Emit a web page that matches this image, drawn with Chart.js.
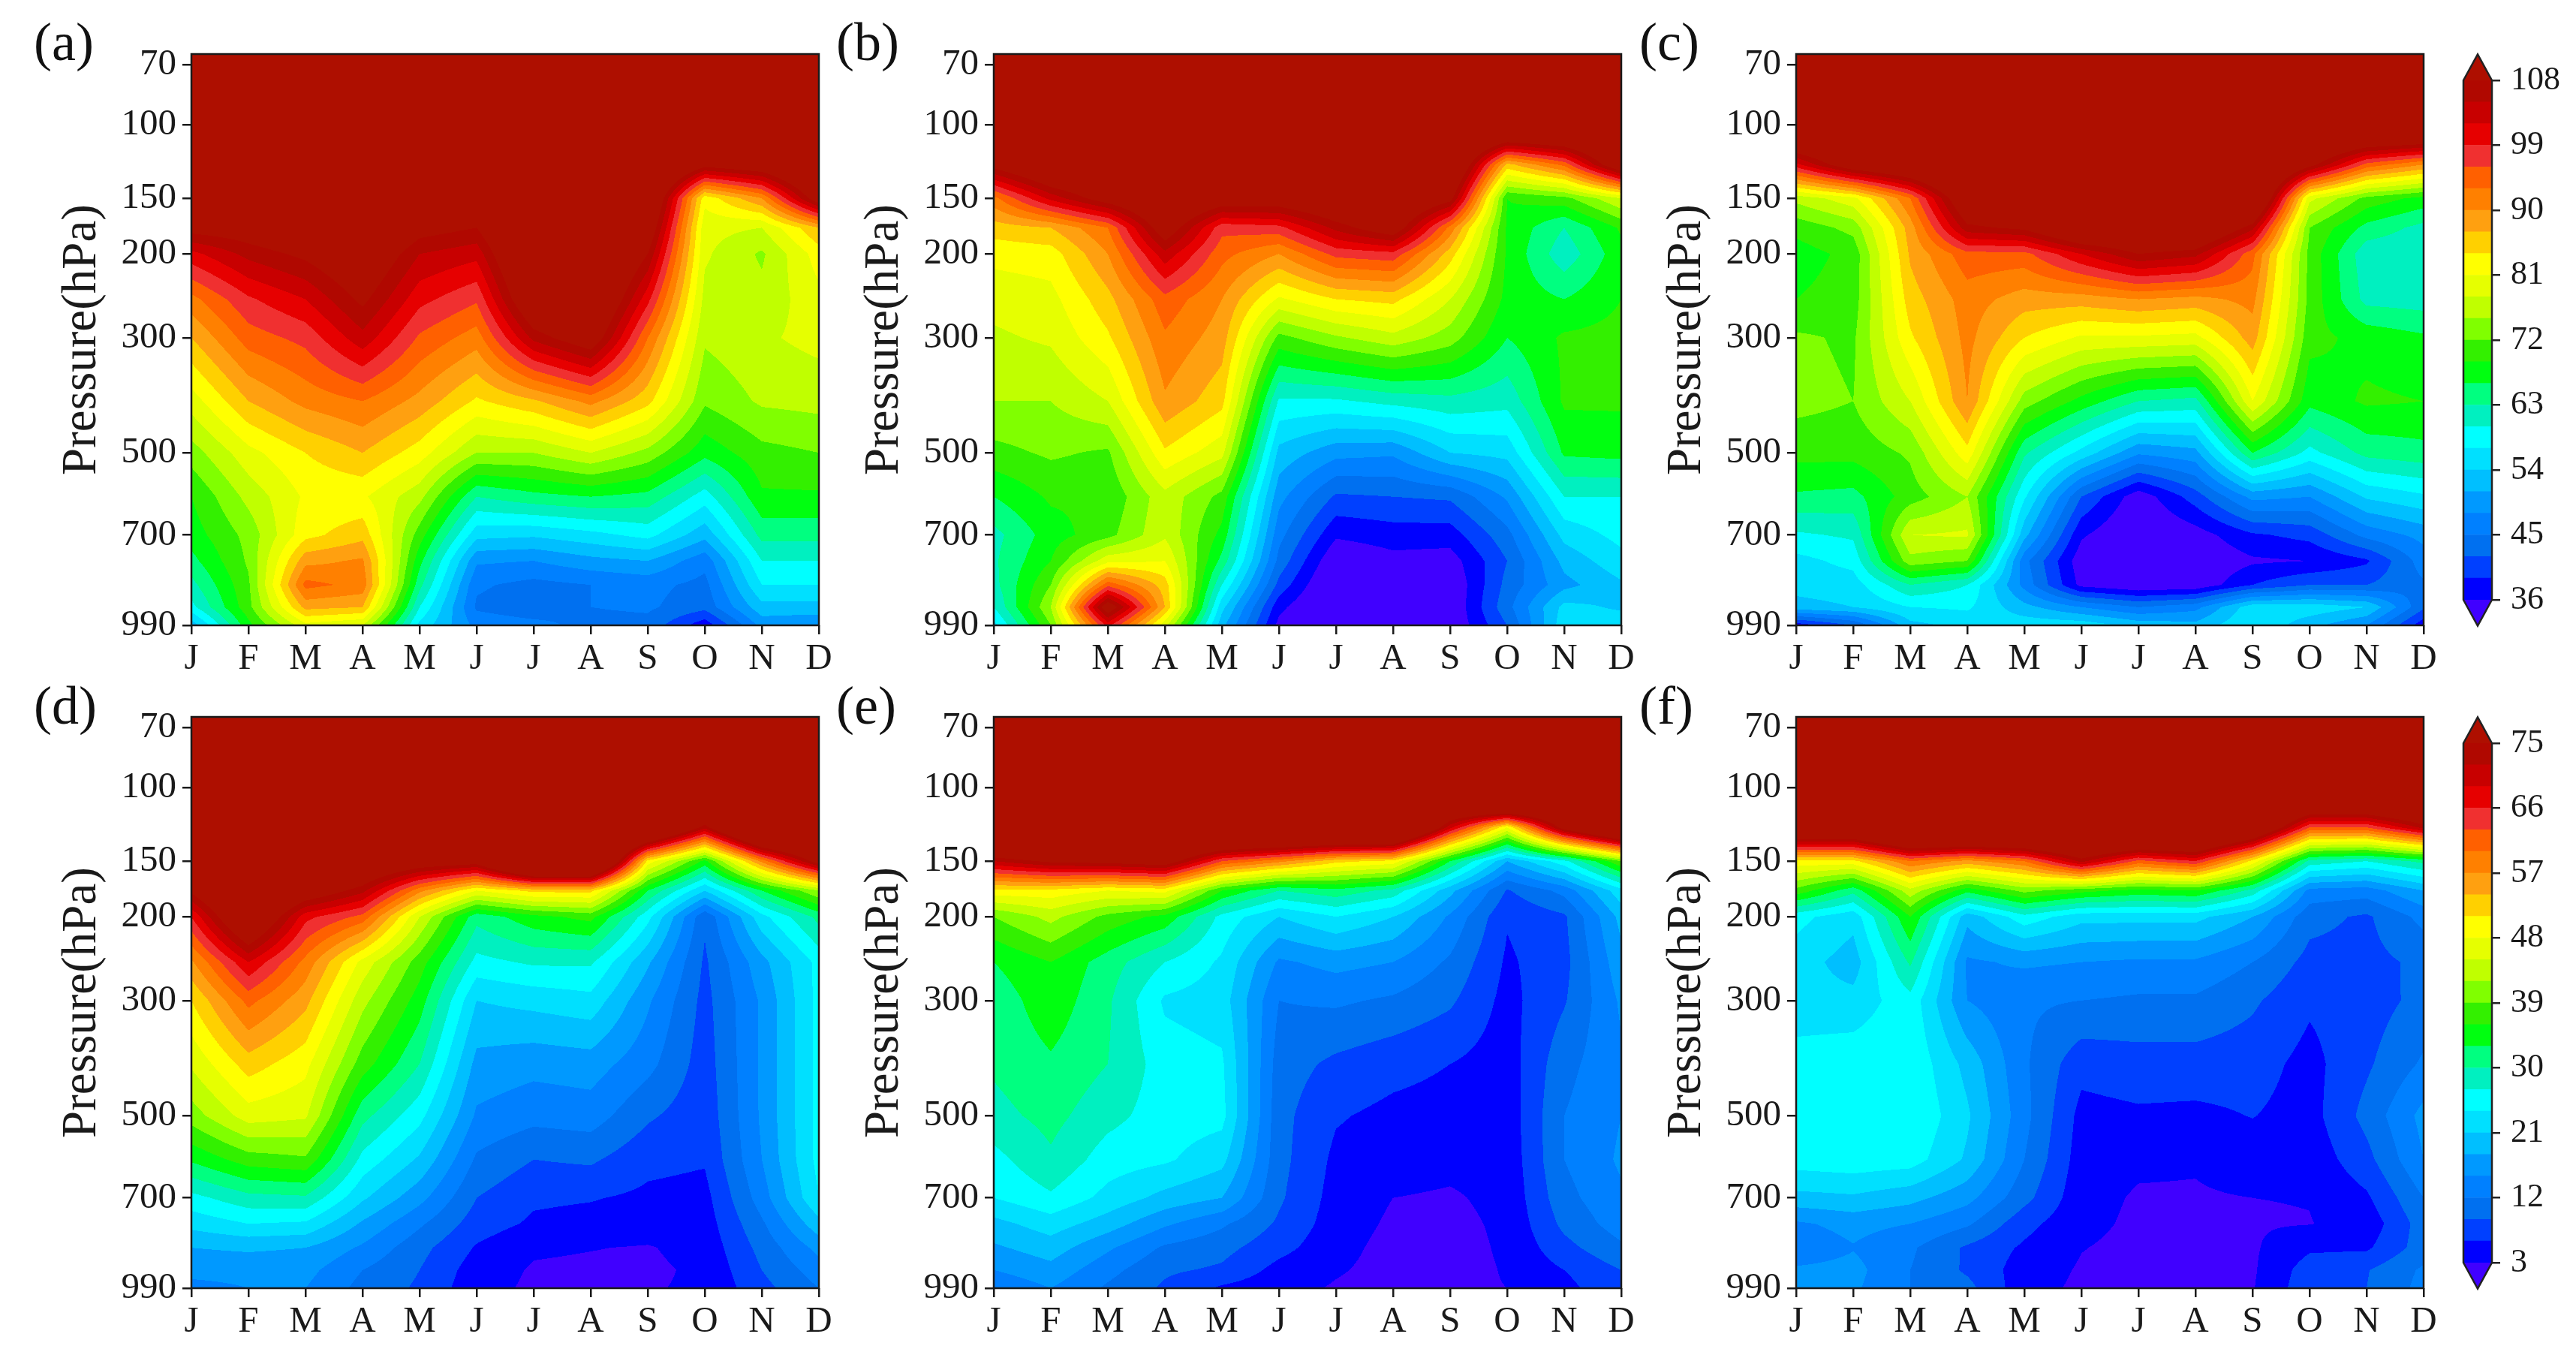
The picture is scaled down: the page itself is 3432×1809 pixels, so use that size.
<!DOCTYPE html>
<html>
<head>
<meta charset="utf-8">
<title>Pressure by month</title>
<script src="https://cdn.jsdelivr.net/npm/chart.js@4"></script>
<style>
  html, body { margin: 0; padding: 0; background: #fff; }
  #page { position: relative; width: 3432px; height: 1809px; overflow: hidden; }
  canvas { position: absolute; }
  .tag { position: absolute; font: 72px "Liberation Serif"; color: #111; line-height: 1; }
</style>
</head>
<body>
<div id="page"></div>
<script>
const months = ["J", "F", "M", "A", "M", "J", "J", "A", "S", "O", "N", "D"];
const pressureTicks = [70, 100, 150, 200, 300, 500, 700, 990];
const pressureLevels = [70, 100, 125, 150, 175, 200, 250, 300, 400, 500, 600, 700, 775, 850, 925, 990];

// one list per month, values follow pressureLevels
const panelA = [
  [125,125,122,116,110,101,92,87,79.5,73.5,69,67.5,65,62,59,52],
  [125,125,122,117,111,106,98.5,94.5,87,80,76,73,72.5,71.5,71,68],
  [125,125,123,119,114,109,102,97,91,84,81.5,83,89,94,88,80],
  [125,125,124,121,118,114,109,104,93,87,81.5,86,90.5,92,87,78],
  [125,125,123,118,110,105,100,95.5,89,82.5,76,70.5,67,64,60,56],
  [125,125,122,113,108,103,96.5,91.5,83.5,75,63,55,48.5,45.5,44.5,47],
  [125,125,124,124,122,120,115,106,86.5,75,65,54.5,48,44,43,46],
  [125,125,125,124,123,122,118,112,91,78,66,56,50,45,45,44],
  [125,125,123,118,113,108,100,93,85,74,65,58,51,46,45.5,44],
  [125,125,110,82,79,78.5,77,75.5,72.5,67,58.5,52,46,44,43,37],
  [125,125,113,90,78,74.5,76,77.5,75.5,71,68.5,64,60,57,53,49],
  [125,125,122,112,87,82.5,80,79,76,72,68.5,64,60,57,53,48]
];
const panelB = [
  [125,120,110,92,85.5,82,79,77.5,75,71,66,62,62.5,62,60,56],
  [125,122,118,103,87,82.5,80,78.5,75,72.5,69.5,67.5,69,72,75,72],
  [125,122,120,111,93,90,86,83.5,78,71.5,69.5,71,80,95,112,100],
  [125,123,122,118,112,104,95,92.5,89.5,83.5,77,77.5,81,85.5,87,79],
  [125,123,120,112,97,94,90,88.5,85,79,71,68,65,60,55,52],
  [125,123,119,112,98,90,80.5,71,59.5,53,49,46,44,41,37,35],
  [125,124,122,116,106,97,84,74.5,59.5,49,41.5,36.5,33,31,30,30],
  [125,124,123,118,112,98,85,77,61,48.5,42,37.5,35,33,32,32],
  [125,124,120,110,92,85.5,78,73.5,62,54,42.5,37.5,34.5,33,33,33],
  [125,125,86,69,68.5,68.5,68,66,61,55,48.5,44,42,43,44,42],
  [125,125,94,71,63,61,66,69.5,69.5,66.5,60,55,52,50,55,56],
  [125,125,115,78,69.5,68,69,70,69.5,67,60,58,56,53.5,53.5,56]
];
const panelC = [
  [125,125,101,76,70,67.5,69,72.5,73,70,65.5,59.5,56,55,53,37],
  [125,125,113,80,73,70,70.5,71.5,72,70,65,60.5,58,55.5,54,42],
  [125,125,118,93,88.5,87.5,85.5,83.5,78,72.5,70.5,78,74,63,57,53],
  [125,125,125,115,107,95,91.5,91,90,83,75,78.5,72,60,57.5,55],
  [125,125,124,118,109,95,88.5,84,73.5,63.5,57.5,52,46,47,52,56],
  [125,125,125,124,118,102,88.5,80.5,68,56,42,36.5,34,35,48,56],
  [125,125,125,124,118,108,90,80.5,63,48.5,34,32,31.5,33,45,53],
  [125,125,125,124,118,106,89,80,62,50,40.5,34.5,33,33.5,47,52],
  [125,125,125,122,106,94,91,88.5,81,66,49,38.5,35.5,39,56,57],
  [125,125,110,79,72,71,71,70,67,59,48,40,36,42,56,52],
  [125,125,95,71,65,61,62,68,69.5,64,54.5,46,38.5,42,54,48],
  [125,125,90,68,62,60.5,61.5,66.5,69,65,56.5,49,46.5,44.5,42.5,37]
];
const panelD = [
  [100,100,90,85,76,66,56.5,51,45.5,40.5,33.5,26,22,18,16,14],
  [100,100,100,95,90,85,69,61,52.5,46.5,37.5,29,24,18.5,16,15],
  [100,100,95,90,80,67,59,55,49,45.5,38.5,29.5,23.5,18,16,15],
  [100,100,92,85,73,62,47,43,37.5,31,26,21.5,17.5,14.5,12,11],
  [100,100,95,80,58,45,37.5,34.5,30,25,20.5,16,12.5,10,9,8.5],
  [100,100,95,78,48,31,26,21,17,14.5,11.5,9,7.5,5.7,4.5,4],
  [100,100,100,100,52,35,27.5,22,16,13,9,6.5,5.5,3.4,2.7,2.5],
  [100,100,100,100,52,37,27.5,23,16.5,13.5,9.5,6.2,5,3.1,2.5,2.5],
  [100,100,95,50,33,25,18.5,15.5,13,9.5,6.8,5.4,4.5,2.8,2.5,2.8],
  [100,100,73,35,21,9.5,8.5,8,7.5,7,6.3,5,4.5,4,3.5,3.4],
  [100,100,100,58,33,23,17,15.5,15.5,15.5,15,13.5,11.5,10,9,8],
  [100,100,100,78,42,31,25,25,25,25,25,24,20,16,13.5,12]
];
const panelE = [
  [100,100,100,72,50,39,33,31,30.5,29,26,24,20,17.5,15,12.5],
  [100,100,100,76,50,43,36,35,32.5,31,29.5,26.5,22.5,19.5,17,15],
  [100,100,100,77,48,38,31.5,30.5,30,28,25.5,23,19.5,15.5,13,11.5],
  [100,100,100,79,49,35,27,23.5,25.5,25.5,24.5,20,15.5,11.5,9.5,8.5],
  [100,100,100,63,36,26,23.5,22.5,24.5,25,22,18,12.5,10,8.5,5.5],
  [100,100,100,58,30,21,14.5,12,10.5,10,10,9.5,8.5,7,5,4],
  [100,100,100,52,32,24,16,12.5,8.3,6.3,5.3,4.8,4.5,4,3.3,2.7],
  [100,100,100,50,29,21,15,11.5,7,5.2,4.2,3,2.5,2,2,2],
  [100,100,70,33,19,14.5,11.5,9.5,6,4.8,3.7,2.7,2.3,2,2,2.5],
  [125,125,48,18,8.7,6.3,5.5,5,4.5,4.2,3.9,3.7,3.5,3.4,3.2,3],
  [100,100,78,26,13,8.5,8,8.7,11,12,12,11,9.8,8,6,5],
  [100,100,95,39,23,19,17,15.5,14.5,15,15.5,14.5,13.5,11.5,9,8.5]
];
const panelF = [
  [100,100,88,50,38,25,22.5,22,25.5,26.5,25.5,20,14.5,12.7,15.5,15.5],
  [100,100,88,50,31,22,19.5,22,26,26.8,26,20.5,16,14.8,16,15.5],
  [100,100,100,60,44,36,30.5,26,26.5,27,25.5,19,15,12.5,12,12],
  [100,100,100,56,34,19,14.5,15,20,21.5,20.5,16,12.5,8.5,8.5,10],
  [100,100,100,60,40,26,15.5,12.5,12.5,13,12,10,7,5.5,4.5,4],
  [100,100,100,73,37,22,15,12,7,5,4.5,4,3.7,3.1,2.7,2.5],
  [100,100,100,62,35,22,14.5,11.5,7.7,5.5,3.5,2.7,2.5,2.3,2.2,2.2],
  [100,100,100,66,36,22,14.5,11.5,7.7,5.3,3.3,2.7,2.5,2.4,2.3,2.3],
  [100,100,88,50,29,18,12,9.5,7.3,6.1,4.5,3,2.7,2.6,2.6,2.8],
  [100,100,63,29,14,10,8,6.5,5,4.8,4,3.1,2.9,5.5,7.5,8],
  [100,100,63,27,13.5,8.5,8,7.5,8.5,10,8,5.5,4,5.5,8.8,9],
  [100,100,73,31,18,13,9.7,10,12.5,16,15,12,10.5,10.5,12.5,13]
];

// colour bar, from the band under the lowest value to the band over the highest
const bandColors = [
  "#4000ff",
  "#0000ff", "#0040ff", "#0070f0", "#0080ff", "#0099ff", "#00bfff", "#00e0ff", "#00ffff",
  "#00f0c0", "#00ff80", "#00ff10", "#33f000", "#80ff00", "#c0ff00", "#e6ff00", "#ffff00",
  "#ffd000", "#ffa010", "#ff8000", "#ff6000", "#f03030", "#e60000", "#c80000", "#b00800",
  "#ae0f00"
];
const bandRgb = bandColors.map(c => [1, 3, 5].map(i => parseInt(c.substr(i, 2), 16)));
const bandStep = 3;

const upperTicks = [36, 45, 54, 63, 72, 81, 90, 99, 108];
const lowerTicks = [3, 12, 21, 30, 39, 48, 57, 66, 75];

// the pressure axis is neither linear nor log, p^0.19 fits the ticks
const pressurePos = p => Math.pow(p, 0.19);
const levelPos = pressureLevels.map(pressurePos);

const serif = "Liberation Serif";
const ink = "#1a1a1a";
const page = document.getElementById("page");

// Paint the filled contours pixel by pixel, going through the chart's scales
const contourPlugin = {
  id: "contour",
  beforeDatasetsDraw(chart) {
    const area = chart.chartArea;
    const xs = chart.scales.x, ys = chart.scales.y;
    const { grid, low } = chart.options.plugins.contour;
    const left = Math.round(area.left), top = Math.round(area.top);
    const w = Math.round(area.right) - left, h = Math.round(area.bottom) - top;
    const img = chart.ctx.createImageData(w, h);

    for (let py = 0; py < h; py++) {
      const t = ys.getValueForPixel(top + py + 0.5);
      let l = 0;
      while (l < levelPos.length - 2 && t > levelPos[l + 1]) l++;
      const ft = Math.min(1, Math.max(0, (t - levelPos[l]) / (levelPos[l + 1] - levelPos[l])));

      for (let px = 0; px < w; px++) {
        const mv = Math.min(10.9999, Math.max(0, xs.getValueForPixel(left + px + 0.5)));
        const m = Math.floor(mv), fm = mv - m;
        const a = grid[m][l] * (1 - ft) + grid[m][l + 1] * ft;
        const b = grid[m + 1][l] * (1 - ft) + grid[m + 1][l + 1] * ft;
        const v = a * (1 - fm) + b * fm;
        const idx = Math.max(0, Math.min(bandRgb.length - 1, Math.floor((v - low) / bandStep) + 1));
        const c = bandRgb[idx], o = (py * w + px) * 4;
        img.data[o] = c[0]; img.data[o + 1] = c[1]; img.data[o + 2] = c[2]; img.data[o + 3] = 255;
      }
    }
    chart.ctx.putImageData(img, left, top);
  },
  afterDraw(chart) {
    const a = chart.chartArea, ctx = chart.ctx;
    ctx.save();
    ctx.strokeStyle = ink;
    ctx.lineWidth = 2.5;
    ctx.strokeRect(a.left, a.top, a.right - a.left, a.bottom - a.top);
    ctx.restore();
  }
};

function drawPanel(grid, low, plotLeft, plotTop) {
  const leftW = 178, bottomH = 80, padTop = 40, padRight = 44;
  const plotW = 836, plotH = 761;
  const canvas = document.createElement("canvas");
  canvas.width = leftW + plotW + padRight;
  canvas.height = padTop + plotH + bottomH;
  canvas.style.left = (plotLeft - leftW) + "px";
  canvas.style.top = (plotTop - padTop) + "px";
  page.appendChild(canvas);

  const points = [];
  grid.forEach((col, m) => col.forEach((v, l) => points.push({ x: m, y: levelPos[l], v: v })));

  new Chart(canvas, {
    type: "scatter",
    data: { datasets: [{ data: points, pointRadius: 0 }] },
    plugins: [contourPlugin],
    options: {
      responsive: false,
      animation: false,
      devicePixelRatio: 1,
      layout: { padding: { top: padTop, right: padRight, left: 0, bottom: 0 } },
      plugins: {
        legend: { display: false },
        tooltip: { enabled: false },
        contour: { grid: grid, low: low }
      },
      scales: {
        x: {
          type: "linear",
          min: 0,
          max: months.length - 1,
          afterFit: s => { s.height = bottomH; },
          border: { display: false },
          grid: { drawOnChartArea: false, tickLength: 12, color: ink, lineWidth: 2.5 },
          ticks: {
            stepSize: 1,
            autoSkip: false,
            maxRotation: 0,
            padding: 4,
            color: ink,
            font: { family: serif, size: 49 },
            callback: v => months[v]
          }
        },
        y: {
          type: "linear",
          reverse: true,
          min: pressurePos(65.5),
          max: pressurePos(990),
          afterFit: s => { s.width = leftW; },
          afterBuildTicks: s => { s.ticks = pressureTicks.map(p => ({ value: pressurePos(p) })); },
          border: { display: false },
          grid: { drawOnChartArea: false, tickLength: 12, color: ink, lineWidth: 2.5 },
          title: {
            display: true,
            text: "Pressure(hPa)",
            color: ink,
            padding: 0,
            font: { family: serif, size: 65, lineHeight: 1 }
          },
          ticks: {
            autoSkip: false,
            padding: 8,
            color: ink,
            font: { family: serif, size: 49 },
            callback: (v, i) => pressureTicks[i]
          }
        }
      }
    }
  });
}

// The pointed ends and the outline of a colour bar
const barEndsPlugin = {
  id: "barEnds",
  afterDatasetsDraw(chart) {
    const a = chart.chartArea, ctx = chart.ctx, ys = chart.scales.y;
    const { low, high } = chart.options.plugins.barEnds;
    const yHigh = ys.getPixelForValue(high), yLow = ys.getPixelForValue(low);
    const mid = (a.left + a.right) / 2;
    ctx.save();
    ctx.fillStyle = bandColors[bandColors.length - 1];
    ctx.beginPath();
    ctx.moveTo(a.left, yHigh); ctx.lineTo(mid, a.top); ctx.lineTo(a.right, yHigh);
    ctx.closePath(); ctx.fill();
    ctx.fillStyle = bandColors[0];
    ctx.beginPath();
    ctx.moveTo(a.left, yLow); ctx.lineTo(mid, a.bottom); ctx.lineTo(a.right, yLow);
    ctx.closePath(); ctx.fill();
    ctx.strokeStyle = "#222";
    ctx.lineWidth = 2.5;
    ctx.beginPath();
    ctx.moveTo(a.left, yHigh); ctx.lineTo(mid, a.top); ctx.lineTo(a.right, yHigh);
    ctx.lineTo(a.right, yLow); ctx.lineTo(mid, a.bottom); ctx.lineTo(a.left, yLow);
    ctx.closePath(); ctx.stroke();
    ctx.restore();
  }
};

function drawColorbar(ticks, barTop, barH) {
  const pad = 40, rightW = 112, barW = 38;
  const low = ticks[0], high = ticks[ticks.length - 1];
  const canvas = document.createElement("canvas");
  canvas.width = pad + barW + rightW;
  canvas.height = barH + pad * 2;
  canvas.style.left = (3282 - pad) + "px";
  canvas.style.top = (barTop - pad) + "px";
  page.appendChild(canvas);

  const datasets = [];
  for (let i = 1; i < bandColors.length - 1; i++) {
    const from = low + (i - 1) * bandStep;
    datasets.push({ data: [[from, from + bandStep]], backgroundColor: bandColors[i], borderWidth: 0 });
  }

  const end = 3.6; // length of the pointed ends, in data units
  new Chart(canvas, {
    type: "bar",
    data: { labels: [""], datasets: datasets },
    plugins: [barEndsPlugin],
    options: {
      responsive: false,
      animation: false,
      devicePixelRatio: 1,
      grouped: false,
      barPercentage: 1,
      categoryPercentage: 1,
      layout: { padding: { top: pad, bottom: pad, left: pad, right: 0 } },
      plugins: {
        legend: { display: false },
        tooltip: { enabled: false },
        barEnds: { low: low, high: high }
      },
      scales: {
        x: { display: false },
        y: {
          position: "right",
          min: low - end,
          max: high + end,
          afterFit: s => { s.width = rightW; },
          afterBuildTicks: s => { s.ticks = ticks.map(v => ({ value: v })); },
          border: { display: false },
          grid: { drawOnChartArea: false, tickLength: 11, color: "#222", lineWidth: 2.5 },
          ticks: { autoSkip: false, padding: 14, color: ink, font: { family: serif, size: 44 } }
        }
      }
    }
  });
}

function addTag(text, left, top) {
  const el = document.createElement("div");
  el.className = "tag";
  el.textContent = text;
  el.style.left = left + "px";
  el.style.top = top + "px";
  page.appendChild(el);
}

const colLeft = [255, 1324, 2393];
const rowTop = [72, 955];

drawPanel(panelA, 36, colLeft[0], rowTop[0]);
drawPanel(panelB, 36, colLeft[1], rowTop[0]);
drawPanel(panelC, 36, colLeft[2], rowTop[0]);
drawPanel(panelD, 3, colLeft[0], rowTop[1]);
drawPanel(panelE, 3, colLeft[1], rowTop[1]);
drawPanel(panelF, 3, colLeft[2], rowTop[1]);

drawColorbar(upperTicks, 72, 762);
drawColorbar(lowerTicks, 955, 762);

addTag("(a)", 45, 20);
addTag("(b)", 1114, 20);
addTag("(c)", 2184, 20);
addTag("(d)", 45, 904);
addTag("(e)", 1114, 904);
addTag("(f)", 2184, 904);
</script>
</body>
</html>
